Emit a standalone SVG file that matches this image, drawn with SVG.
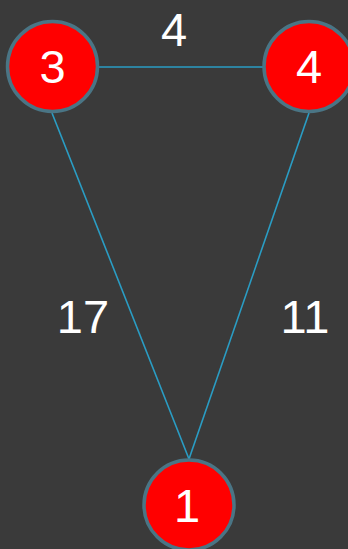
<svg xmlns="http://www.w3.org/2000/svg" width="348" height="549" viewBox="0 0 348 549">
<style>
.node circle{fill:#ff0000;stroke:#4a7585;stroke-width:3.5}
.lbl{font-family:"Liberation Sans",Arial,sans-serif;font-size:47px;fill:#ffffff;text-anchor:middle}
.edge{stroke:#2a9dc4;stroke-width:1.6;fill:none}
</style>
<rect width="348" height="549" fill="#3a3a3a"/>
<g id="edges">
<line class="edge" x1="99" y1="67" x2="263" y2="67"/>
<line class="edge" x1="52" y1="113" x2="189" y2="459"/>
<line class="edge" x1="309" y1="113" x2="189" y2="459"/>
<text class="lbl" x="174" y="46">4</text>
<text class="lbl" x="83" y="333">17</text>
<text class="lbl" x="305" y="333">11</text>
</g>
<g id="node3" class="node"><circle cx="52.5" cy="66.5" r="45"/><text class="lbl" x="52.5" y="83">3</text></g>
<g id="node4" class="node"><circle cx="309" cy="66.5" r="45"/><text class="lbl" x="309" y="83">4</text></g>
<g id="node1" class="node"><circle cx="189" cy="505" r="45"/><text class="lbl" x="187" y="522">1</text></g>
</svg>
